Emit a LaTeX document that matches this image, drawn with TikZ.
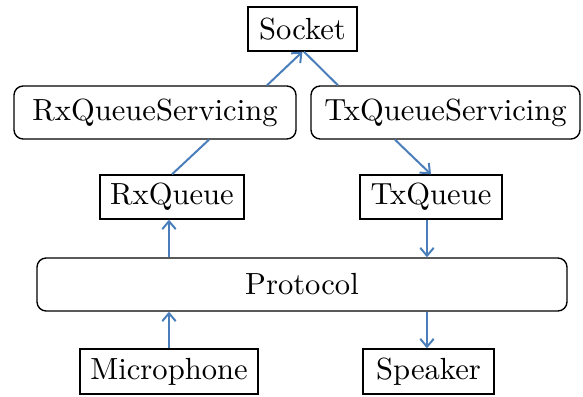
\documentclass[tikz,border=0pt]{standalone}
\usetikzlibrary{calc,arrows.meta}
\definecolor{lineblue}{RGB}{74,126,187}
\begin{document}
\begin{tikzpicture}[x=0.327pt,y=-0.327pt,
  box/.style={draw=black,line width=0.45pt,inner sep=0pt,font=\fontsize{10}{12}\selectfont},
  rbox/.style={box,rounded corners=3pt},
  conn/.style={draw=lineblue,line width=0.65pt},
  arr/.style={conn,-{Straight Barb[length=2.6pt,width=4.4pt]}}]
\useasboundingbox (0,0) rectangle (583,396);
\node[box,minimum width=109*0.327pt,minimum height=44*0.327pt] (sock) at (302.5,29) {Socket};
\node[rbox,minimum width=282*0.327pt,minimum height=53*0.327pt] (rxs) at (155,112.5) {RxQueueServicing};
\node[rbox,minimum width=269*0.327pt,minimum height=53*0.327pt] (txs) at (445.5,112.5) {TxQueueServicing};
\node[box,minimum width=144*0.327pt,minimum height=44*0.327pt] (rxq) at (172,197) {RxQueue};
\node[box,minimum width=142*0.327pt,minimum height=44*0.327pt] (txq) at (431,197) {TxQueue};
\node[rbox,minimum width=530*0.327pt,minimum height=53*0.327pt] (prot) at (302,284.5) {Protocol};
\node[box,minimum width=178*0.327pt,minimum height=45*0.327pt] (mic) at (169,371.5) {Microphone};
\node[box,minimum width=131*0.327pt,minimum height=45*0.327pt] (spk) at (428.5,371.5) {Speaker};
\coordinate (lx) at (169,0);
\coordinate (rx) at (427,0);
\draw[arr] ($(rxs.north)+(112,0)$) -- (sock.south);
\draw[conn] ($(sock.south)+(1.5,0)$) -- ($(txs.north)+(-107.5,0)$);
\draw[conn] (rxq.north) -- ($(rxs.south)+(54,0)$);
\draw[arr] ($(txs.south)+(-50.5,0)$) -- (txq.north);
\draw[arr] (prot.north -| lx) -- (rxq.south -| lx);
\draw[arr] (txq.south -| rx) -- (prot.north -| rx);
\draw[arr] (mic.north -| lx) -- (prot.south -| lx);
\draw[arr] (prot.south -| rx) -- (spk.north -| rx);
\end{tikzpicture}
\end{document}
